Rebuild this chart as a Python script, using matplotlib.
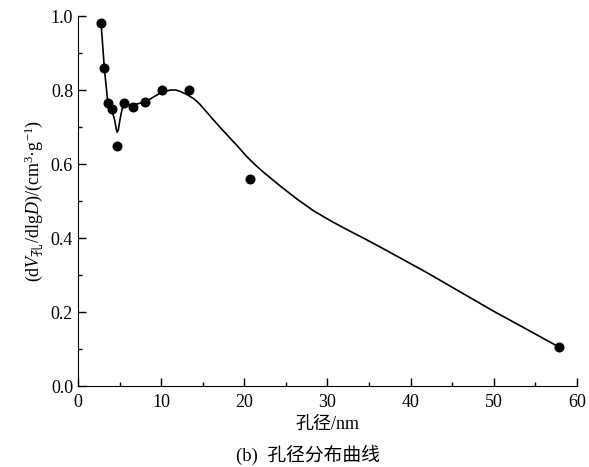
import matplotlib
matplotlib.use('Agg')
import matplotlib.pyplot as plt
from matplotlib.ticker import MultipleLocator, FormatStrFormatter

# measured points
pore_d = [2.77, 3.17, 3.57, 4.14, 4.74, 5.54, 6.67, 8.07, 10.08, 13.4, 20.7, 57.8]
dv = [0.982, 0.859, 0.766, 0.748, 0.649, 0.766, 0.754, 0.767, 0.80, 0.80, 0.560, 0.106]

# fitted curve
curve_x = [2.77, 3.17, 3.57, 3.9, 4.14, 4.4, 4.6, 4.7, 4.85, 5.05, 5.3, 5.54,
           6.2, 7.0, 8.07, 9.0, 10.0, 11.1, 11.8, 12.3, 13.0, 13.9, 14.6, 15.3,
           16.3, 17.1, 18.0, 19.2, 20.3, 21.3, 22.3, 24.3, 26.3, 28.3, 30.5,
           32.5, 34.4, 36.4, 39.0, 42.0, 46.0, 50.0, 54.0, 57.8]
curve_y = [0.982, 0.859, 0.770, 0.748, 0.740, 0.720, 0.695, 0.686, 0.692, 0.72,
           0.748, 0.760, 0.760, 0.762, 0.767, 0.780, 0.793, 0.800, 0.800, 0.796,
           0.789, 0.777, 0.763, 0.745, 0.719, 0.699, 0.677, 0.648, 0.620, 0.598,
           0.578, 0.541, 0.506, 0.474, 0.445, 0.421, 0.399, 0.375, 0.343, 0.306,
           0.254, 0.202, 0.153, 0.106]

fam = ['Liberation Serif', 'Noto Sans CJK SC']
plt.rcParams['font.family'] = fam
plt.rcParams['mathtext.fontset'] = 'custom'
plt.rcParams['mathtext.rm'] = 'Noto Sans CJK SC'
plt.rcParams['mathtext.it'] = 'Liberation Serif:italic'
plt.rcParams['mathtext.sf'] = 'Liberation Serif'

fig = plt.figure(figsize=(5.89, 4.67), dpi=100)
ax = fig.add_axes([0.1324, 0.1734, 0.847, 0.7923])

ax.plot(curve_x, curve_y, color='black', lw=1.2)
ax.plot(pore_d, dv, 'o', color='black', ms=6.2, clip_on=False)

ax.set_xlim(0, 60)
ax.set_ylim(0, 1.0)
ax.xaxis.set_major_locator(MultipleLocator(10))
ax.xaxis.set_minor_locator(MultipleLocator(5))
ax.yaxis.set_major_locator(MultipleLocator(0.2))
ax.yaxis.set_minor_locator(MultipleLocator(0.1))
ax.yaxis.set_major_formatter(FormatStrFormatter('%.1f'))
ax.tick_params(which='major', direction='in', length=6, width=1, labelsize=13)
ax.tick_params(axis='x', which='major', pad=6)
ax.tick_params(which='minor', direction='in', length=3, width=1)
ax.spines['top'].set_visible(False)
ax.spines['right'].set_visible(False)

ax.set_xlabel('孔径/nm', fontsize=13, labelpad=3)
ax.set_ylabel(r'(d$V_{\mathrm{孔}}$/dlg$D$)/(cm$^{\mathsf{3}}$·g$^{\mathsf{-1}}$)',
              fontsize=13, labelpad=4)
fig.text(0.523, 0.026, '(b)  孔径分布曲线', ha='center', va='center', fontsize=13.5)

fig.savefig('out.png', dpi=100)
